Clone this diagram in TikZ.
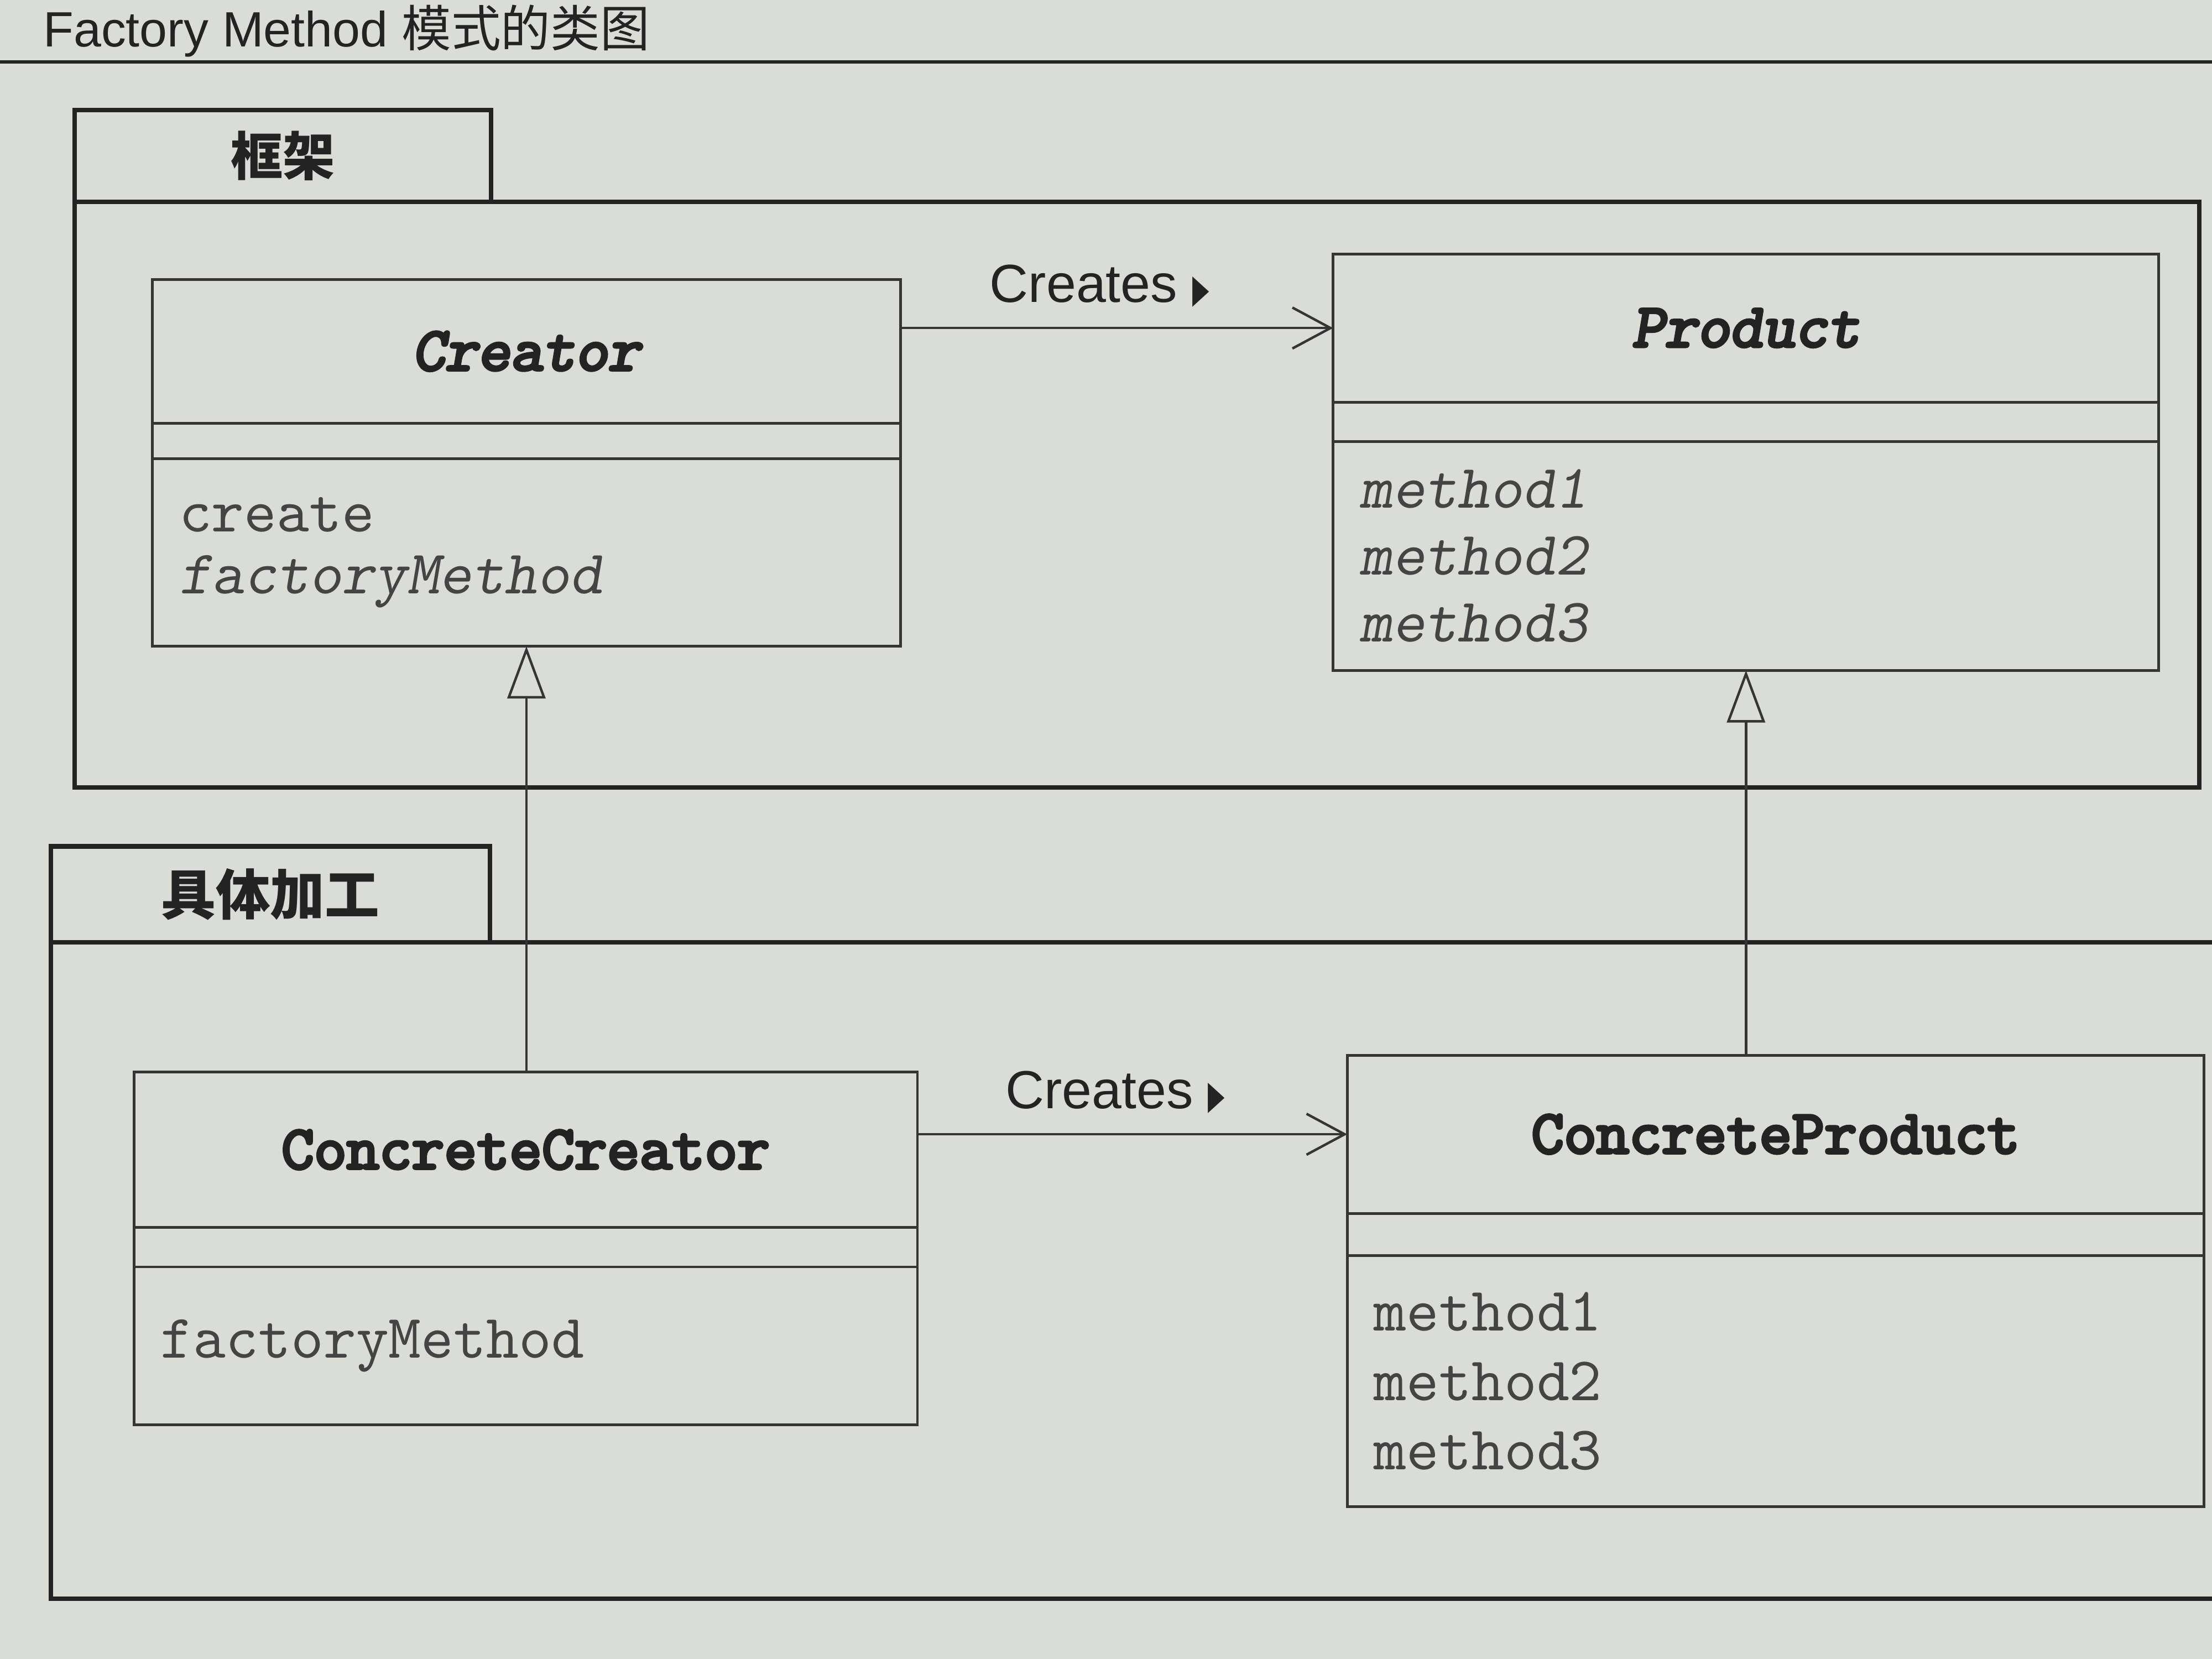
\documentclass[tikz,border=0pt]{standalone}
\usepackage{fontspec}
\setmainfont{Liberation Sans}
\setmonofont{lmmono10-regular.otf}[ItalicFont=lmmonoslant10-regular.otf]
\newfontfamily\clsfont{lmmono10-regular.otf}[FakeBold=4.5,
  ItalicFont=lmmonoslant10-regular.otf, ItalicFeatures={FakeBold=4.5}]
\newfontfamily\cjk{Noto Sans CJK SC}
\newfontfamily\symb{DejaVu Sans}
\usetikzlibrary{arrows.meta,positioning,calc}

\definecolor{paper}{HTML}{DADCD8}
\definecolor{ink}{HTML}{232323}
\definecolor{boxline}{HTML}{353535}
\definecolor{methink}{HTML}{444444}

\tikzset{
  pkgline/.style={draw=ink, line width=0.9pt, inner sep=0pt, outer sep=0pt},
  pkgtab/.style={pkgline, anchor=south west, text=ink,
    font=\cjk\bfseries\fontsize{10.5}{12}\selectfont},
  pkgbody/.style={pkgline, anchor=north west},
  namebox/.style={draw=boxline, line width=0.55pt, inner sep=0pt, outer sep=0pt,
    anchor=north west, text=ink, font=\clsfont\fontsize{12.5}{14}\selectfont},
  attrbox/.style={draw=boxline, line width=0.55pt, inner sep=0pt, outer sep=0pt,
    anchor=north},
  methbox/.style={draw=boxline, line width=0.55pt, inner ysep=0pt, inner xsep=0.19cm,
    outer sep=0pt, anchor=north, align=left, text=methink},
  assoc/.style={draw=boxline, line width=0.5pt,
    -{Straight Barb[length=2.7mm, width=2.9mm, line width=0.5pt]}},
  inherit/.style={draw=boxline, line width=0.5pt,
    -{Triangle[open, length=3.7mm, width=2.7mm, line width=0.5pt]}},
  relname/.style={text=ink, inner sep=1pt, font=\fontsize{10.8}{13}\selectfont},
}
\newcommand{\dirmark}{{\symb\fontsize{8}{8}\selectfont\scalebox{0.55}[1]{▶}}}

\begin{document}
\begin{tikzpicture}[x=0.01cm, y=-0.01cm]
  \useasboundingbox (0,0) rectangle (1568,1176);
  \clip (0,0) rectangle (1568,1176);
  \fill[paper] (0,0) rectangle (1568,1176);

  % page heading and rule
  \node[anchor=base west, inner sep=0pt, text=ink, font=\fontsize{10}{12}\selectfont]
    (heading) at (30,33) {Factory Method {\cjk 模式的类图}};
  \draw[ink, line width=0.7pt] (0,44) -- (1568,44);

  % framework package
  \node[pkgbody, minimum width=15.05cm, minimum height=4.15cm] (fw) at (53,143) {};
  \node[pkgtab, minimum width=2.95cm, minimum height=0.65cm] (fwtab) at (53,143) {框架};

  % concrete package
  \node[pkgbody, minimum width=15.80cm, minimum height=4.65cm] (impl) at (36,668) {};
  \node[pkgtab, minimum width=3.11cm, minimum height=0.68cm,
    font=\cjk\bfseries\fontsize{11}{12}\selectfont] (impltab) at (36,668) {具体加工};

  % Creator
  \node[namebox, minimum width=5.30cm, minimum height=1.02cm] (creator) at (108,198)
    {\itshape Creator};
  \node[attrbox, minimum width=5.30cm, minimum height=0.25cm] (creator-a) at (creator.south) {};
  \node[methbox, text width=4.92cm, minimum height=1.33cm,
    font=\fontsize{12.5}{12.5}\selectfont\ttfamily] (creator-m) at (creator-a.south)
    {create\\\textit{factoryMethod}};

  % Product
  \node[namebox, minimum width=5.85cm, minimum height=1.05cm] (product) at (945,180)
    {\itshape Product};
  \node[attrbox, minimum width=5.85cm, minimum height=0.28cm] (product-a) at (product.south) {};
  \node[methbox, text width=5.47cm, minimum height=1.62cm,
    font=\fontsize{12.5}{13.5}\selectfont\ttfamily\itshape] (product-m) at (product-a.south)
    {method1\\method2\\method3};

  % ConcreteCreator
  \node[namebox, minimum width=5.55cm, minimum height=1.10cm] (ccreator) at (95,760)
    {ConcreteCreator};
  \node[attrbox, minimum width=5.55cm, minimum height=0.28cm] (ccreator-a) at (ccreator.south) {};
  \node[methbox, text width=5.17cm, minimum height=1.12cm,
    font=\fontsize{12.5}{13.5}\selectfont\ttfamily] (ccreator-m) at (ccreator-a.south)
    {factoryMethod};

  % ConcreteProduct
  \node[namebox, minimum width=6.07cm, minimum height=1.12cm] (cproduct) at (955,748)
    {ConcreteProduct};
  \node[attrbox, minimum width=6.07cm, minimum height=0.30cm] (cproduct-a) at (cproduct.south) {};
  \node[methbox, text width=5.69cm, minimum height=1.78cm,
    font=\fontsize{12.5}{14}\selectfont\ttfamily] (cproduct-m) at (cproduct-a.south)
    {method1\\method2\\method3};

  % associations
  \draw[assoc] (creator.east |- product.west) -- (product.west)
    node[relname, pos=0.46, above=3pt] (rel1) {Creates \dirmark};
  \draw[assoc] (ccreator.east |- cproduct.west) -- (cproduct.west)
    node[relname, pos=0.46, above=3pt] (rel2) {Creates \dirmark};

  % generalizations
  \draw[inherit] (ccreator.north -| creator-m.south) -- (creator-m.south);
  \draw[inherit] (cproduct.north -| product-m.south) -- (product-m.south);
\end{tikzpicture}
\end{document}
